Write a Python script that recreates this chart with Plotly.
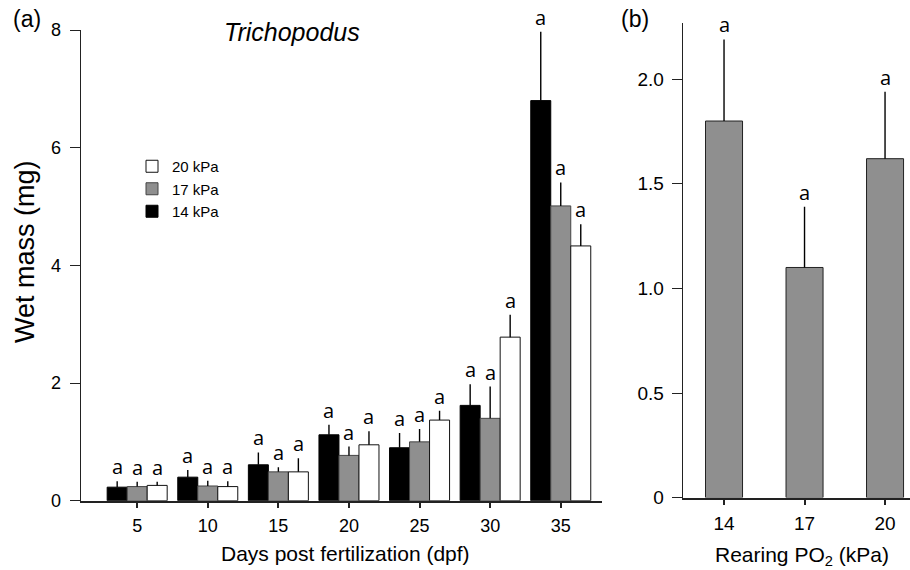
import plotly.graph_objects as go

# ---- Panel (a) data ----
dpf = [5, 10, 15, 20, 25, 30, 35]
mass_14 = [0.23, 0.40, 0.61, 1.12, 0.90, 1.62, 6.80]
err_14 = [0.10, 0.12, 0.21, 0.17, 0.25, 0.36, 1.17]
mass_17 = [0.24, 0.25, 0.49, 0.77, 1.00, 1.40, 5.01]
err_17 = [0.08, 0.09, 0.08, 0.15, 0.22, 0.54, 0.40]
mass_20 = [0.26, 0.24, 0.49, 0.95, 1.37, 2.78, 4.33]
err_20 = [0.06, 0.09, 0.23, 0.23, 0.16, 0.38, 0.37]
sig_14 = ["a"] * 7
sig_17 = ["a"] * 7
sig_20 = ["a"] * 7
series_names = ["14 kPa", "17 kPa", "20 kPa"]
y_ticks_a = [0, 2, 4, 6, 8]

# ---- Panel (b) data ----
rearing = [14, 17, 20]
mass_b = [1.80, 1.10, 1.62]
err_b = [0.39, 0.29, 0.32]
sig_b = ["a", "a", "a"]
y_ticks_b = [0, 0.5, 1.0, 1.5, 2.0]
y_ticktext_b = ["0", "0.5", "1.0", "1.5", "2.0"]

W, H = 910, 570
BARGAP = 0.15
colors = ["#000000", "#8f8f8f", "#ffffff"]
line_cols = ["#000000", "#444444", "#111111"]

fig = go.Figure()
groups = [(mass_14, err_14, sig_14), (mass_17, err_17, sig_17), (mass_20, err_20, sig_20)]
for i, (m, e, s) in enumerate(groups):
    fig.add_trace(go.Bar(
        x=dpf, y=m, name=series_names[i],
        marker=dict(color=colors[i], line=dict(color=line_cols[i], width=1)),
        error_y=dict(type="data", array=e, arrayminus=[0] * len(e), symmetric=False,
                     width=0, thickness=1.4, color="#000000"),
        xaxis="x", yaxis="y", showlegend=True,
    ))

fig.add_trace(go.Bar(
    x=rearing, y=mass_b, width=1.38, showlegend=False,
    marker=dict(color="#8f8f8f", line=dict(color="#222222", width=1)),
    error_y=dict(type="data", array=err_b, arrayminus=[0] * 3, symmetric=False,
                 width=0, thickness=1.4, color="#000000"),
    xaxis="x2", yaxis="y2",
))

annotations = []
bw = 5 * (1 - BARGAP) / 3
offsets = [-bw, 0, bw]
sig_font = dict(family="Open Sans", size=20, color="#000")
for i, (m, e, s) in enumerate(groups):
    for xv, mv, ev, sv in zip(dpf, m, e, s):
        annotations.append(dict(x=xv + offsets[i], y=mv + ev, xref="x", yref="y",
                                text=sv, showarrow=False, xanchor="center",
                                yanchor="bottom", yshift=-1, font=sig_font))
for xv, mv, ev, sv in zip(rearing, mass_b, err_b, sig_b):
    annotations.append(dict(x=xv, y=mv + ev, xref="x2", yref="y2",
                            text=sv, showarrow=False, xanchor="center",
                            yanchor="bottom", yshift=-1, font=sig_font))


def px(x):
    return x / W


def py(y):
    return (H - y) / H


def label(x, y, text, size, **kw):
    return dict(x=px(x), y=py(y), xref="paper", yref="paper", text=text,
                showarrow=False, xanchor="center", yanchor="middle",
                font=dict(size=size), **kw)


annotations += [
    label(27, 19, "(a)", 23),
    label(635, 19, "(b)", 23),
    label(292, 32, "<i>Trichopodus</i>", 25),
    label(25, 252, "Wet mass (mg)", 27, textangle=-90),
    label(345.5, 553, "Days post fertilization (dpf)", 21),
    label(801.5, 556, "Rearing PO<sub>2</sub> (kPa)", 21),
]

axis_common = dict(showgrid=False, zeroline=False, showline=True, linecolor="#222",
                   ticks="outside", tickcolor="#222", automargin=False)

fig.update_layout(
    width=W, height=H,
    margin=dict(l=0, r=0, t=0, b=0, pad=0, autoexpand=False),
    paper_bgcolor="white", plot_bgcolor="white",
    font=dict(family="Liberation Sans, Arial", color="#000"),
    barmode="group", bargap=BARGAP, bargroupgap=0,
    xaxis=dict(domain=[px(80.7), px(601.7)], range=[1.0, 37.9], tickvals=dpf,
               ticklen=5, tickwidth=1.5, linewidth=1.8, anchor="y",
               ticklabelstandoff=3, tickfont=dict(size=18), **axis_common),
    yaxis=dict(domain=[py(500.7), py(30)], range=[0, 8], tickvals=y_ticks_a,
               ticklen=10, tickwidth=1, linewidth=1.2, anchor="x",
               ticklabelstandoff=5, tickfont=dict(size=18), **axis_common),
    xaxis2=dict(domain=[px(682.7), 1.0], range=[12.46, 20.93], tickvals=rearing,
                ticklen=5, tickwidth=2, linewidth=1.8, anchor="y2",
                ticklabelstandoff=3, tickfont=dict(size=19), **axis_common),
    yaxis2=dict(domain=[py(497.6), py(22.7)], range=[0, 2.27], tickvals=y_ticks_b,
                ticktext=y_ticktext_b, ticklen=10, tickwidth=1, linewidth=1.2,
                anchor="x2", ticklabelstandoff=4, tickfont=dict(size=19), **axis_common),
    legend=dict(x=px(132), y=py(150), xanchor="left", yanchor="top",
                traceorder="reversed", bgcolor="rgba(0,0,0,0)",
                font=dict(size=15), itemclick=False),
    annotations=annotations,
)

fig.write_html("out.html")
